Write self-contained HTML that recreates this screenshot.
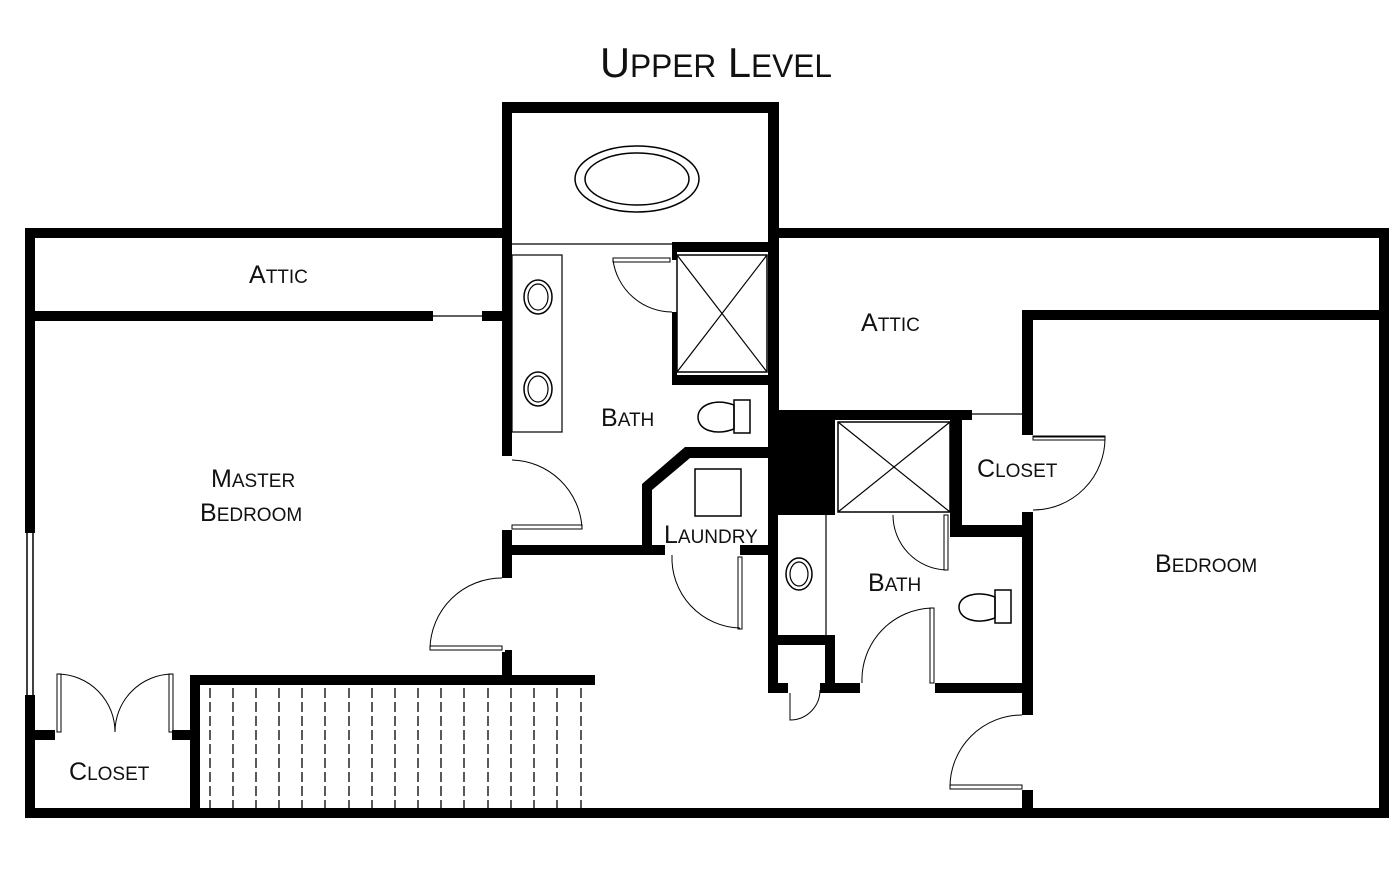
<!DOCTYPE html>
<html><head><meta charset="utf-8"><style>
html,body{margin:0;padding:0;background:#fff;}
svg{display:block}
text{font-family:"Liberation Sans",sans-serif;fill:#111;}
</style></head><body>
<svg width="1400" height="870" viewBox="0 0 1400 870" xmlns="http://www.w3.org/2000/svg">
<rect width="1400" height="870" fill="#fff"/>
<text x="600" y="77" font-size="42" textLength="232" lengthAdjust="spacingAndGlyphs">U<tspan font-size="32">PPER</tspan> L<tspan font-size="32">EVEL</tspan></text>
<g fill="#000">
<rect x="25" y="228" width="477" height="10"/>
<rect x="778" y="228" width="611" height="10"/>
<rect x="25" y="228" width="10" height="305"/>
<rect x="25" y="695" width="10" height="123"/>
<rect x="25" y="808" width="1364" height="10"/>
<rect x="1379" y="228" width="10" height="590"/>
<rect x="502" y="102" width="277" height="11"/>
<rect x="502" y="102" width="10" height="354"/>
<rect x="768" y="102" width="11" height="310"/>
<rect x="35" y="311" width="398" height="10"/>
<rect x="482" y="311" width="20" height="10"/>
<rect x="672" y="242" width="98" height="10"/>
<rect x="672" y="375" width="98" height="10"/>
<rect x="672" y="252" width="5" height="8"/>
<rect x="672" y="312" width="5" height="63"/>
<polygon points="642,484 685,447 770,447 770,458 690,458 652,490 652,555 642,555"/>
<rect x="512" y="545" width="153" height="10"/>
<rect x="740" y="545" width="38" height="10"/>
<rect x="502" y="530" width="10" height="48"/>
<rect x="502" y="652" width="10" height="24"/>
<rect x="190" y="675" width="405" height="10"/>
<rect x="190" y="675" width="10" height="140"/>
<rect x="35" y="730" width="20" height="10"/>
<rect x="172" y="730" width="20" height="10"/>
<rect x="768" y="410" width="204" height="10"/>
<rect x="778" y="410" width="57" height="105"/>
<rect x="768" y="410" width="10" height="280"/>
<rect x="778" y="635" width="57" height="10"/>
<rect x="825" y="635" width="10" height="57"/>
<rect x="768" y="683" width="20" height="10"/>
<rect x="820" y="683" width="40" height="10"/>
<rect x="935" y="683" width="97" height="10"/>
<rect x="950" y="415" width="12" height="120"/>
<rect x="950" y="525" width="82" height="12"/>
<rect x="1022" y="310" width="11" height="125"/>
<rect x="1022" y="512" width="11" height="203"/>
<rect x="1022" y="790" width="11" height="20"/>
<rect x="1022" y="310" width="367" height="10"/>
</g>
<g fill="none" stroke="#000">
<line x1="27" y1="533" x2="27" y2="695" stroke-width="1.5"/>
<line x1="33" y1="533" x2="33" y2="695" stroke-width="1.5"/>
<line x1="433" y1="316" x2="482" y2="316" stroke-width="1.2"/>
<line x1="512" y1="244" x2="672" y2="244" stroke-width="1.2"/>
<line x1="972" y1="414" x2="1022" y2="414" stroke-width="1.2"/>
<ellipse cx="637" cy="179" rx="62" ry="33" stroke-width="1.5"/>
<ellipse cx="637" cy="179" rx="52" ry="26" stroke-width="1.5"/>
<rect x="677" y="255" width="90" height="117" stroke-width="1.5"/>
<line x1="677" y1="255" x2="767" y2="372" stroke-width="1.2"/>
<line x1="767" y1="255" x2="677" y2="372" stroke-width="1.2"/>
<rect x="838" y="422" width="112" height="90" stroke-width="1.5"/>
<line x1="838" y1="422" x2="950" y2="512" stroke-width="1.2"/>
<line x1="950" y1="422" x2="838" y2="512" stroke-width="1.2"/>
<rect x="512" y="255" width="50" height="177" stroke-width="1.2"/>
<ellipse cx="538" cy="297" rx="14" ry="17" stroke-width="1.5"/>
<ellipse cx="538" cy="297" rx="10" ry="13" stroke-width="1.2"/>
<ellipse cx="538" cy="389" rx="14" ry="17" stroke-width="1.5"/>
<ellipse cx="538" cy="389" rx="10" ry="13" stroke-width="1.2"/>
<line x1="826" y1="515" x2="826" y2="635" stroke-width="1.2"/>
<ellipse cx="799" cy="574" rx="13" ry="16" stroke-width="1.5"/>
<ellipse cx="799" cy="574" rx="9" ry="12" stroke-width="1.2"/>
<path d="M734,405 C715,398 698,405 698,417 C698,430 715,436 734,429 Z" stroke-width="1.5"/>
<rect x="734" y="400" width="16" height="33" stroke-width="1.5"/>
<path d="M995,597 C976,590 959,596 959,607 C959,619 976,625 995,618 Z" stroke-width="1.5"/>
<rect x="995" y="590" width="16" height="33" stroke-width="1.5"/>
<rect x="695" y="469" width="46" height="47" stroke-width="1.5"/>
<g stroke-width="1">
<path d="M613,260 A60,60 0 0 0 672,312"/><rect x="613" y="258" width="57" height="4"/>
<path d="M512,460 A72,72 0 0 1 582,528"/><rect x="512" y="525" width="70" height="4"/>
<path d="M502,578 A72,72 0 0 0 430,648"/><rect x="430" y="646" width="72" height="4"/>
<path d="M672,555 A70,70 0 0 0 740,628"/><rect x="738" y="557" width="4" height="72"/>
<path d="M893,515 A55,55 0 0 0 946,570"/><rect x="944" y="515" width="4" height="55"/>
<path d="M932,608 A72,72 0 0 0 862,683"/><rect x="930" y="608" width="4" height="75"/>
<path d="M790,693 L790,720 A30,30 0 0 0 820,690"/>
<path d="M1033,437 L1105,437 A72,72 0 0 1 1033,510"/><rect x="1033" y="436" width="72" height="4"/>
<path d="M1022,715 A72,72 0 0 0 950,787"/><rect x="950" y="785" width="72" height="4"/>
<path d="M58,674 A58,58 0 0 1 115,732"/><rect x="57" y="674" width="4" height="58"/>
<path d="M172,674 A58,58 0 0 0 115,732"/><rect x="169" y="674" width="4" height="58"/>
</g>
<g stroke-width="1.3" stroke-dasharray="10,4">
<line x1="210" y1="688" x2="210" y2="808"/><line x1="233" y1="688" x2="233" y2="808"/>
<line x1="256" y1="688" x2="256" y2="808"/><line x1="279" y1="688" x2="279" y2="808"/>
<line x1="302" y1="688" x2="302" y2="808"/><line x1="325" y1="688" x2="325" y2="808"/>
<line x1="349" y1="688" x2="349" y2="808"/><line x1="372" y1="688" x2="372" y2="808"/>
<line x1="395" y1="688" x2="395" y2="808"/><line x1="418" y1="688" x2="418" y2="808"/>
<line x1="441" y1="688" x2="441" y2="808"/><line x1="464" y1="688" x2="464" y2="808"/>
<line x1="488" y1="688" x2="488" y2="808"/><line x1="511" y1="688" x2="511" y2="808"/>
<line x1="534" y1="688" x2="534" y2="808"/><line x1="557" y1="688" x2="557" y2="808"/>
<line x1="581" y1="688" x2="581" y2="808"/>
</g>
</g>
<rect x="505" y="650" width="7" height="25" fill="#000"/>
<g font-size="25">
<text x="249" y="283">A<tspan font-size="19">TTIC</tspan></text>
<text x="861" y="331">A<tspan font-size="19">TTIC</tspan></text>
<text x="601" y="426">B<tspan font-size="19">ATH</tspan></text>
<text x="868" y="591">B<tspan font-size="19">ATH</tspan></text>
<text x="211" y="487">M<tspan font-size="19">ASTER</tspan></text>
<text x="200" y="521">B<tspan font-size="19">EDROOM</tspan></text>
<text x="664" y="543">L<tspan font-size="19">AUNDRY</tspan></text>
<text x="977" y="477">C<tspan font-size="19">LOSET</tspan></text>
<text x="1155" y="572">B<tspan font-size="19">EDROOM</tspan></text>
<text x="69" y="780">C<tspan font-size="19">LOSET</tspan></text>
</g>
</svg>
</body></html>
